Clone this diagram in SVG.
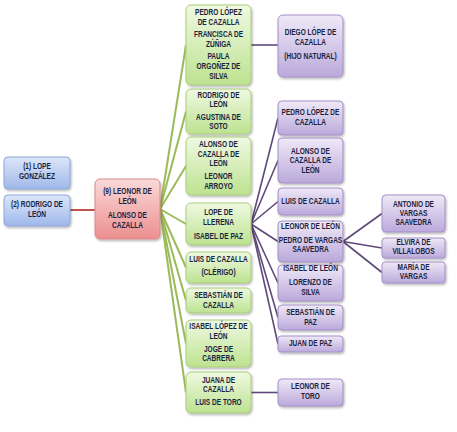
<svg xmlns="http://www.w3.org/2000/svg" width="457" height="432" viewBox="0 0 457 432">
<defs>
<linearGradient id="gBlue" x1="0" y1="0" x2="0" y2="1"><stop offset="0" stop-color="#dce6f9"/><stop offset="1" stop-color="#9fb8ea"/></linearGradient>
<linearGradient id="gRed" x1="0" y1="0" x2="0" y2="1"><stop offset="0" stop-color="#fbd9d9"/><stop offset="1" stop-color="#ec8f8f"/></linearGradient>
<linearGradient id="gGreen" x1="0" y1="0" x2="0" y2="1"><stop offset="0" stop-color="#eff9e2"/><stop offset="1" stop-color="#bde290"/></linearGradient>
<linearGradient id="gPurple" x1="0" y1="0" x2="0" y2="1"><stop offset="0" stop-color="#efe9f7"/><stop offset="1" stop-color="#bba9db"/></linearGradient>
<filter id="sh" x="-10%" y="-10%" width="130%" height="130%"><feDropShadow dx="1" dy="1.5" stdDeviation="1" flood-color="#000" flood-opacity="0.3"/></filter>
</defs>
<style>
.b{fill:url(#gBlue);stroke:#8ea8d8;stroke-width:1;filter:url(#sh)}
.r{fill:url(#gRed);stroke:#d98a8a;stroke-width:1;filter:url(#sh)}
.g{fill:url(#gGreen);stroke:#a9cd7c;stroke-width:1;filter:url(#sh)}
.p{fill:url(#gPurple);stroke:#a48fc8;stroke-width:1;filter:url(#sh)}
text{font-family:"Liberation Sans",Arial,sans-serif;font-weight:bold;font-size:8.4px;fill:#1a2340;text-anchor:middle}
.lg{stroke:#9bbb59;stroke-width:2;fill:none}
.lp{stroke:#5f497a;stroke-width:1.6;fill:none}
.lr{stroke:#c0504d;stroke-width:2;fill:none}
</style>
<rect width="457" height="432" fill="#ffffff"/>
<g id="connectors">
<line class="lr" x1="70" y1="210" x2="95" y2="210"/>
<line class="lg" x1="160" y1="209" x2="186" y2="45"/>
<line class="lg" x1="160" y1="209" x2="186" y2="111.5"/>
<line class="lg" x1="160" y1="209" x2="186" y2="166"/>
<line class="lg" x1="160" y1="209" x2="186" y2="224"/>
<line class="lg" x1="160" y1="209" x2="186" y2="267.5"/>
<line class="lg" x1="160" y1="209" x2="186" y2="300.5"/>
<line class="lg" x1="160" y1="209" x2="186" y2="343.5"/>
<line class="lg" x1="160" y1="209" x2="186" y2="392.5"/>
<line class="lp" x1="251" y1="45" x2="278" y2="45"/>
<line class="lp" x1="251" y1="224" x2="278" y2="118"/>
<line class="lp" x1="251" y1="224" x2="278" y2="160.5"/>
<line class="lp" x1="251" y1="224" x2="278" y2="201.5"/>
<line class="lp" x1="251" y1="224" x2="278" y2="241.5"/>
<line class="lp" x1="251" y1="224" x2="278" y2="283"/>
<line class="lp" x1="251" y1="224" x2="278" y2="317.5"/>
<line class="lp" x1="251" y1="224" x2="278" y2="344"/>
<line class="lp" x1="251" y1="392.5" x2="278" y2="392.5"/>
<line class="lp" x1="343" y1="241.5" x2="382" y2="213.5"/>
<line class="lp" x1="343" y1="241.5" x2="382" y2="248"/>
<line class="lp" x1="343" y1="241.5" x2="382" y2="272.5"/>
</g>
<g id="n1"><rect class="b" x="4" y="157" width="66" height="32" rx="4"/>
<g transform="translate(37 0) scale(0.78 1)"><text x="0" y="169.5">(1) LOPE</text><text x="0" y="179.5">GONZÁLEZ</text></g></g>
<g id="n2"><rect class="b" x="4" y="195" width="66" height="31" rx="4"/>
<g transform="translate(37 0) scale(0.78 1)"><text x="0" y="207.5">(2) RODRIGO DE</text><text x="0" y="217.5">LEÓN</text></g></g>
<g id="n9"><rect class="r" x="95" y="179" width="65" height="60" rx="5"/>
<g transform="translate(127.5 0) scale(0.78 1)"><text x="0" y="194.5">(9) LEONOR DE</text><text x="0" y="204.5">LEÓN</text><text x="0" y="218.5">ALONSO DE</text><text x="0" y="227.5">CAZALLA</text></g></g>
<g id="g1"><rect class="g" x="186" y="5" width="65" height="80" rx="5"/>
<g transform="translate(218.5 0) scale(0.78 1)"><text x="0" y="15.5">PEDRO LÓPEZ</text><text x="0" y="25.5">DE CAZALLA</text><text x="0" y="37.5">FRANCISCA DE</text><text x="0" y="47.5">ZÚÑIGA</text><text x="0" y="59.5">PAULA</text><text x="0" y="69.5">ORGOÑEZ DE</text><text x="0" y="79.5">SILVA</text></g></g>
<g id="g2"><rect class="g" x="186" y="89" width="65" height="45" rx="5"/>
<g transform="translate(218.5 0) scale(0.78 1)"><text x="0" y="98">RODRIGO DE</text><text x="0" y="107.5">LEÓN</text><text x="0" y="120">AGUSTINA DE</text><text x="0" y="129.5">SOTO</text></g></g>
<g id="g3"><rect class="g" x="186" y="137" width="65" height="58" rx="5"/>
<g transform="translate(218.5 0) scale(0.78 1)"><text x="0" y="147.5">ALONSO DE</text><text x="0" y="157.5">CAZALLA DE</text><text x="0" y="166.5">LEÓN</text><text x="0" y="179.5">LEONOR</text><text x="0" y="189.5">ARROYO</text></g></g>
<g id="g4"><rect class="g" x="186" y="203" width="65" height="42" rx="5"/>
<g transform="translate(218.5 0) scale(0.78 1)"><text x="0" y="215.5">LOPE DE</text><text x="0" y="225.5">LLERENA</text><text x="0" y="239.5">ISABEL DE PAZ</text></g></g>
<g id="g5"><rect class="g" x="186" y="252" width="65" height="31" rx="5"/>
<g transform="translate(218.5 0) scale(0.78 1)"><text x="0" y="262.5">LUIS DE CAZALLA</text><text x="0" y="275.5">(CLÉRIGO)</text></g></g>
<g id="g6"><rect class="g" x="186" y="288" width="65" height="25" rx="5"/>
<g transform="translate(218.5 0) scale(0.78 1)"><text x="0" y="298.5">SEBASTIÁN DE</text><text x="0" y="308.5">CAZALLA</text></g></g>
<g id="g7"><rect class="g" x="186" y="320" width="65" height="47" rx="5"/>
<g transform="translate(218.5 0) scale(0.78 1)"><text x="0" y="329.5">ISABEL LÓPEZ DE</text><text x="0" y="339.5">LEÓN</text><text x="0" y="352.5">JOGE DE</text><text x="0" y="361.5">CABRERA</text></g></g>
<g id="g8"><rect class="g" x="186" y="372" width="65" height="41" rx="5"/>
<g transform="translate(218.5 0) scale(0.78 1)"><text x="0" y="383.5">JUANA DE</text><text x="0" y="392.5">CAZALLA</text><text x="0" y="405.5">LUIS DE TORO</text></g></g>
<g id="p1"><rect class="p" x="278" y="15" width="65" height="62" rx="5"/>
<g transform="translate(310.5 0) scale(0.78 1)"><text x="0" y="35.5">DIEGO LÓPE DE</text><text x="0" y="45.5">CAZALLA</text><text x="0" y="59.5">(HIJO NATURAL)</text></g></g>
<g id="p2"><rect class="p" x="278" y="101" width="65" height="34" rx="4"/>
<g transform="translate(310.5 0) scale(0.78 1)"><text x="0" y="115.5">PEDRO LÓPEZ DE</text><text x="0" y="125.5">CAZALLA</text></g></g>
<g id="p3"><rect class="p" x="278" y="138" width="65" height="45" rx="4"/>
<g transform="translate(310.5 0) scale(0.78 1)"><text x="0" y="154.5">ALONSO DE</text><text x="0" y="163.5">CAZALLA DE</text><text x="0" y="173.5">LEÓN</text></g></g>
<g id="p4"><rect class="p" x="278" y="188" width="65" height="27" rx="4"/>
<g transform="translate(310.5 0) scale(0.78 1)"><text x="0" y="204.5">LUIS DE CAZALLA</text></g></g>
<g id="p5"><rect class="p" x="278" y="221" width="65" height="41" rx="4"/>
<g transform="translate(310.5 0) scale(0.78 1)"><text x="0" y="229.5">LEONOR DE LEÓN</text><text x="0" y="243.5">PEDRO DE VARGAS</text><text x="0" y="252.5">SAAVEDRA</text></g></g>
<g id="p6"><rect class="p" x="278" y="265" width="65" height="36" rx="4"/>
<g transform="translate(310.5 0) scale(0.78 1)"><text x="0" y="271.5">ISABEL DE LEÓN</text><text x="0" y="285.5">LORENZO DE</text><text x="0" y="295.5">SILVA</text></g></g>
<g id="p7"><rect class="p" x="278" y="305" width="65" height="25" rx="4"/>
<g transform="translate(310.5 0) scale(0.78 1)"><text x="0" y="315.5">SEBASTIÁN DE</text><text x="0" y="325.5">PAZ</text></g></g>
<g id="p8"><rect class="p" x="278" y="336" width="65" height="16" rx="3"/>
<g transform="translate(310.5 0) scale(0.78 1)"><text x="0" y="346.5">JUAN DE PAZ</text></g></g>
<g id="p9"><rect class="p" x="278" y="379" width="65" height="27" rx="4"/>
<g transform="translate(310.5 0) scale(0.78 1)"><text x="0" y="389.5">LEONOR DE</text><text x="0" y="399.5">TORO</text></g></g>
<g id="q1"><rect class="p" x="382" y="195" width="63" height="37" rx="4"/>
<g transform="translate(413.5 0) scale(0.78 1)"><text x="0" y="207.5">ANTONIO DE</text><text x="0" y="216">VARGAS</text><text x="0" y="225">SAAVEDRA</text></g></g>
<g id="q2"><rect class="p" x="382" y="238" width="63" height="20" rx="3"/>
<g transform="translate(413.5 0) scale(0.78 1)"><text x="0" y="245.5">ELVIRA DE</text><text x="0" y="254.5">VILLALOBOS</text></g></g>
<g id="q3"><rect class="p" x="382" y="262" width="63" height="21" rx="3"/>
<g transform="translate(413.5 0) scale(0.78 1)"><text x="0" y="270.5">MARÍA DE</text><text x="0" y="279.5">VARGAS</text></g></g>
</svg>
